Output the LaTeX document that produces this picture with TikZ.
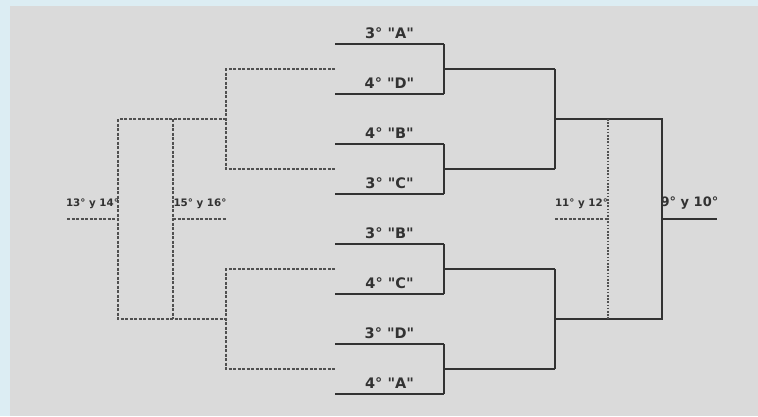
\documentclass[tikz,border=0pt]{standalone}
\usepackage{fontspec}
\newfontfamily\lblfont{DejaVu Sans}
\usetikzlibrary{calc}

\definecolor{outerblue}{RGB}{220,237,243}
\definecolor{panelgray}{RGB}{218,218,218}
\definecolor{linegray}{RGB}{50,50,50}
\definecolor{dashgray}{RGB}{80,80,80}

\tikzset{
    win/.style   = {draw=linegray, line width=2.2pt},
    lose/.style  = {draw=dashgray, line width=1.5pt, dash pattern=on 3pt off 1.5pt},
    place/.style = {draw=dashgray, line width=1.2pt, dash pattern=on 1.6pt off 1.6pt},
    team/.style  = {font=\lblfont\bfseries\fontsize{14.5}{14.5}\selectfont, text=linegray, anchor=base, inner sep=0pt, yshift=6pt},
    final/.style = {team, font=\lblfont\bfseries\fontsize{13}{13}\selectfont, yshift=6.5pt},
    minor/.style = {team, font=\lblfont\bfseries\fontsize{10.3}{10.3}\selectfont, yshift=7pt}
}

\begin{document}
\begin{tikzpicture}[x = 1pt, y = -1pt]
    \fill[outerblue] (0,0) rectangle (758,416);
    \fill[panelgray] (10,6) rectangle (758,416);
    \useasboundingbox (0,0) rectangle (758,416);

    % first round
    \foreach \n/\y/\team in {1/44/3° "A", 2/94/4° "D", 3/144/4° "B", 4/194/3° "C",
                             5/244/3° "B", 6/294/4° "C", 7/344/3° "D", 8/394/4° "A"} {
        \coordinate (sw\n) at (335,\y);
        \coordinate (se\n) at (444,\y);
        \draw[win] (sw\n) -- (se\n) node[midway, team]{\team};
    }

    % quarter and semi points
    \foreach \k/\y in {1/69, 2/169, 3/269, 4/369} {
        \coordinate (me\k) at (444,\y);
        \coordinate (mw\k) at (335,\y);
        \coordinate (q\k) at (555,\y);
        \coordinate (l\k) at (226,\y);
    }
    \coordinate (h1) at (555,119);
    \coordinate (h2) at (555,319);
    \coordinate (f1) at (662,119);
    \coordinate (f2) at (662,319);
    \coordinate (fm) at (662,219);
    \coordinate (fo) at (717,219);
    \coordinate (p1) at (608,119);
    \coordinate (p2) at (608,319);
    \coordinate (pm) at (608,219);
    \coordinate (po) at (555,219);

    % winners
    \draw[win]
        (se1) -- (se2) (se3) -- (se4) (se5) -- (se6) (se7) -- (se8)
        (me1) -- (q1) (me2) -- (q2) (me3) -- (q3) (me4) -- (q4)
        (q1) -- (q2) (q3) -- (q4)
        (h1) -- (f1) -- (f2) -- (h2)
        (fm) -- (fo) node[midway, final]{9° y 10°};
    \draw[place] (p1) -- (p2);
    \draw[lose] (po) -- (pm) node[midway, minor]{11° y 12°};

    % losers
    \coordinate (g1) at (226,119);
    \coordinate (g2) at (226,319);
    \coordinate (k1) at (118,119);
    \coordinate (k2) at (118,319);
    \coordinate (km) at (118,219);
    \coordinate (ko) at (67,219);
    \coordinate (t1) at (173,119);
    \coordinate (t2) at (173,319);
    \coordinate (tm) at (173,219);
    \coordinate (to) at (227,219);
    \draw[lose]
        (mw1) -- (l1) -- (l2) -- (mw2)
        (mw3) -- (l3) -- (l4) -- (mw4)
        (g1) -- (k1) -- (k2) -- (g2)
        (t1) -- (t2);
    \draw[lose] (tm) -- (to) node[midway, minor]{15° y 16°};
    \draw[lose] (ko) -- (km) node[midway, minor]{13° y 14°};
\end{tikzpicture}
\end{document}
